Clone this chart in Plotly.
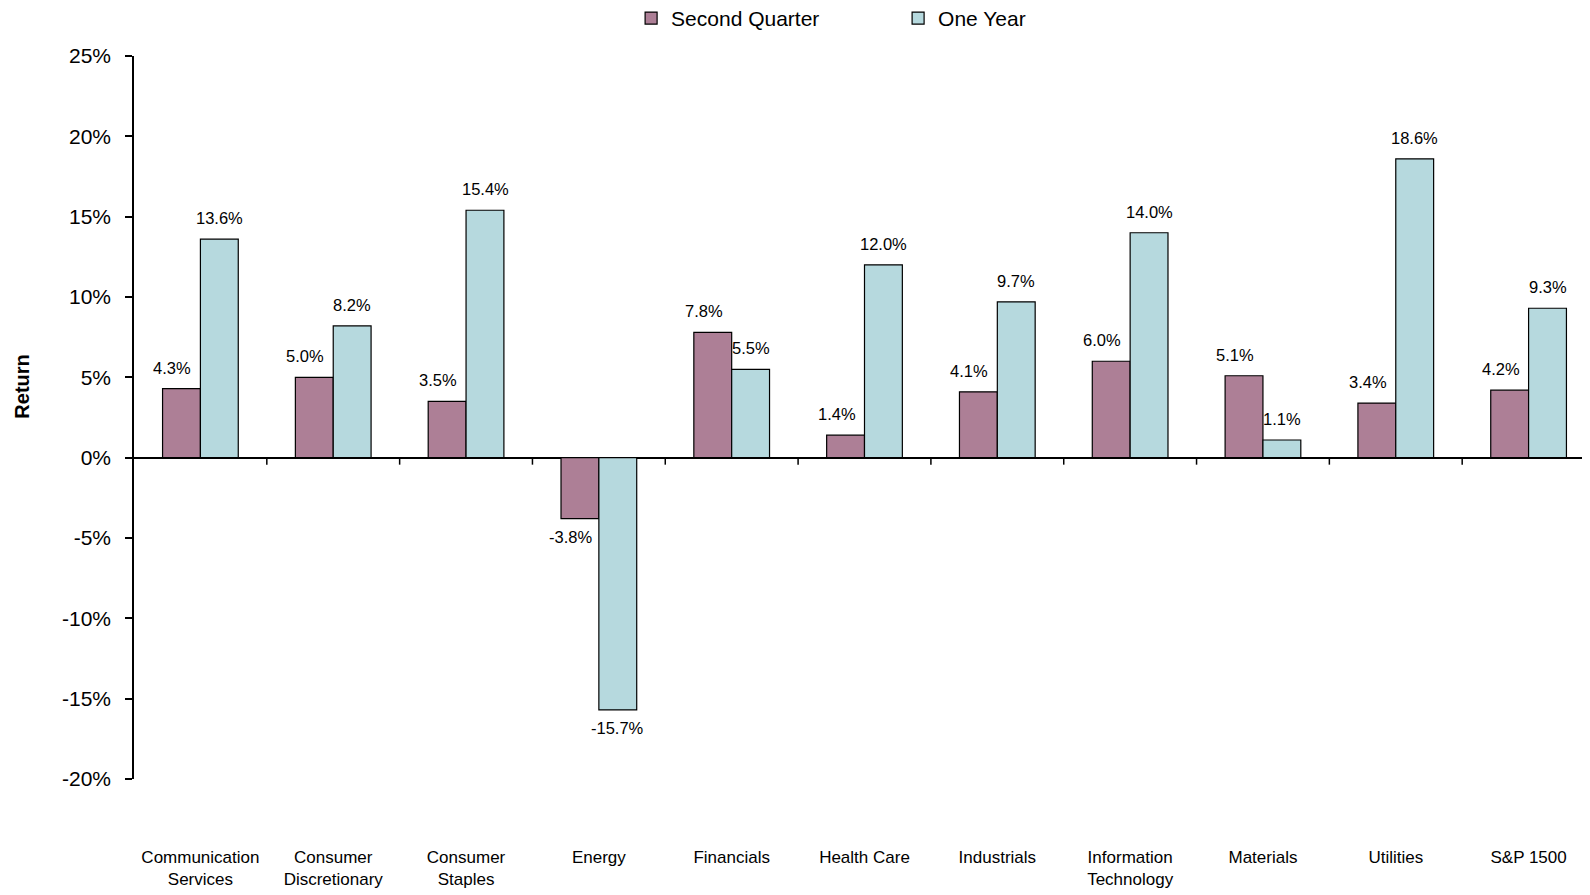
import plotly.graph_objects as go

categories = ["Communication<br>Services", "Consumer<br>Discretionary", "Consumer<br>Staples", "Energy",
              "Financials", "Health Care", "Industrials", "Information<br>Technology", "Materials",
              "Utilities", "S&P 1500"]
second_quarter = [4.3, 5.0, 3.5, -3.8, 7.8, 1.4, 4.1, 6.0, 5.1, 3.4, 4.2]
one_year = [13.6, 8.2, 15.4, -15.7, 5.5, 12.0, 9.7, 14.0, 1.1, 18.6, 9.3]
y_ticks = [-20, -15, -10, -5, 0, 5, 10, 15, 20, 25]

FONT = "Liberation Sans, Arial"
C_Q = "#AD7F96"
C_Y = "#B6D9DE"

fig = go.Figure()
fig.add_trace(go.Bar(name="Second Quarter", x=categories, y=second_quarter,
                     marker=dict(color=C_Q, line=dict(color="black", width=1.2))))
fig.add_trace(go.Bar(name="One Year", x=categories, y=one_year,
                     marker=dict(color=C_Y, line=dict(color="black", width=1.2))))

# value labels above / below each bar (pixel offsets from the category centre)
for series, shift in ((second_quarter, -28), (one_year, 19)):
    for cat, v in zip(categories, series):
        fig.add_annotation(x=cat, y=v, xref="x", yref="y", text=f"{v:.1f}%",
                           showarrow=False, xshift=shift,
                           yanchor="bottom" if v >= 0 else "top",
                           yshift=10 if v >= 0 else -7,
                           font=dict(size=16.5, family=FONT, color="black"))

# tick marks on the zero line at category boundaries
for i in range(1, len(categories) + 1):
    fig.add_shape(type="line", xref="x", yref="y", x0=i - 0.5, x1=i - 0.5,
                  ysizemode="pixel", yanchor=0, y0=0, y1=-7,
                  line=dict(color="black", width=1.5))

fig.add_annotation(text="<b>Return</b>", xref="paper", yref="paper",
                   x=-0.0765, y=0.543, xanchor="center", yanchor="middle", textangle=-90,
                   showarrow=False, font=dict(size=20, family=FONT, color="black"))

fig.update_layout(
    width=1596, height=892,
    margin=dict(l=126, r=9, t=48, b=121, autoexpand=False),
    paper_bgcolor="white", plot_bgcolor="white",
    barmode="group", bargap=0.43, bargroupgap=0,
    font=dict(family=FONT, color="black"),
    showlegend=True,
    legend=dict(orientation="h", x=0.523, xanchor="center", y=1.052, yanchor="middle",
                font=dict(size=21, family=FONT), itemwidth=30, traceorder="normal",
                entrywidth=222, entrywidthmode="pixels"),
)
fig.update_xaxes(showline=False, showgrid=False, ticks="", tickfont=dict(size=17, family=FONT),
                 ticklabelstandoff=66, range=[-0.5, len(categories) - 0.5])
fig.update_yaxes(range=[-20, 25], tickvals=y_ticks, ticktext=[f"{v}%" for v in y_ticks],
                 showgrid=False, showline=True, linecolor="black", linewidth=1.5,
                 ticks="outside", ticklen=7, tickcolor="black", tickwidth=1.5,
                 ticklabelstandoff=10,
                 tickfont=dict(size=21, family=FONT),
                 zeroline=True, zerolinecolor="black", zerolinewidth=1.5)

fig.write_html("out.html")
